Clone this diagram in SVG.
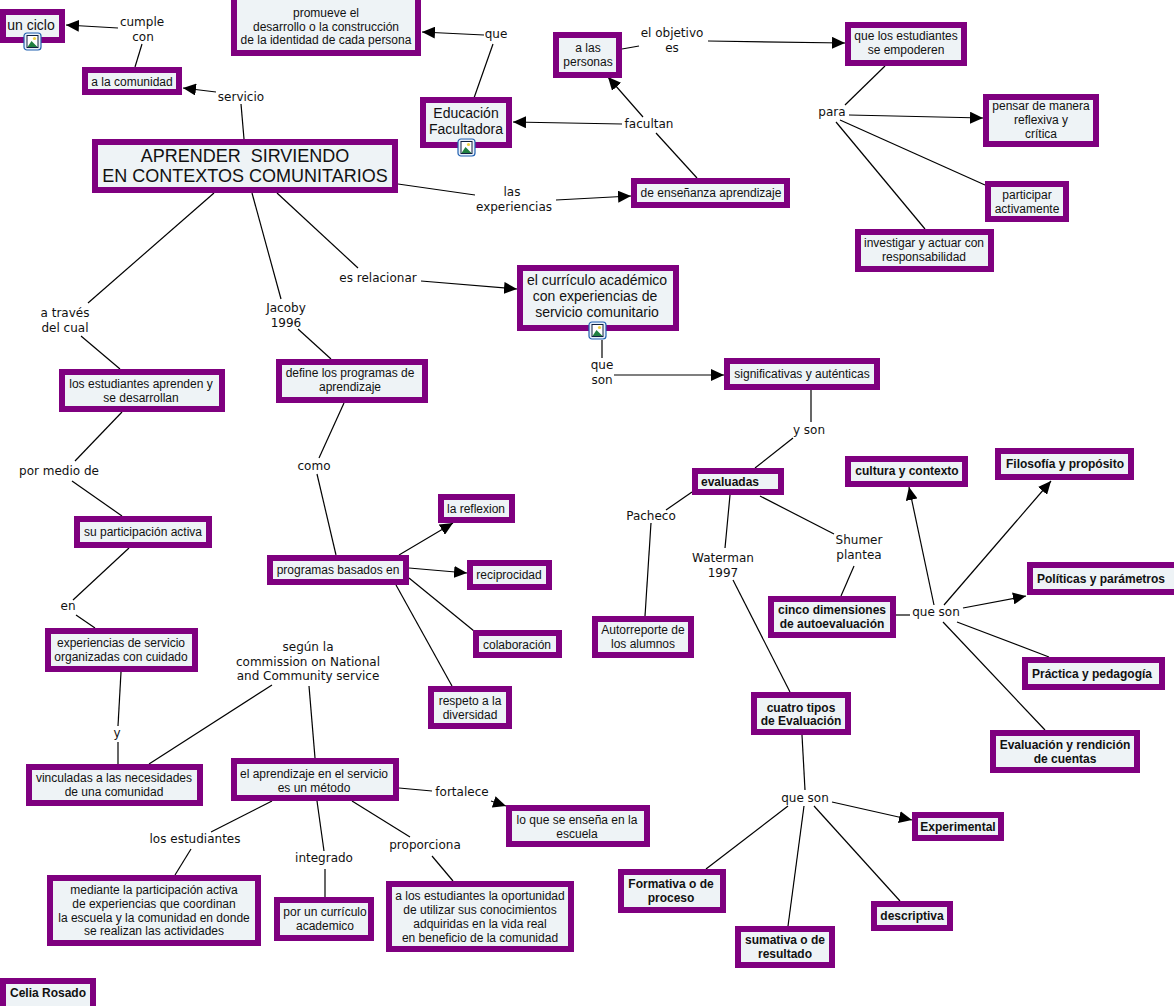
<svg xmlns="http://www.w3.org/2000/svg" width="1174" height="1006" viewBox="0 0 1174 1006">
<style>
.n{fill:#eef3f6;stroke:#7f007f;stroke-width:6}
.t{font:12px "Liberation Sans",Arial,sans-serif;fill:#111;text-anchor:middle}
.b{font-weight:bold}
.l{font:12px "DejaVu Sans",Verdana,sans-serif;fill:#111;text-anchor:middle}
#connectors line{stroke:#000;stroke-width:1.2}
.a{marker-end:url(#arr)}
</style>
<defs>
<marker id="arr" markerUnits="userSpaceOnUse" markerWidth="14" markerHeight="12" refX="13" refY="6" orient="auto"><path d="M0 0L13 6L0 12Z" fill="#000"/></marker>
<g id="ic"><rect x="0" y="0" width="17" height="17" rx="3" fill="#e8f0fa" stroke="#2060b0" stroke-width="1.2"/><rect x="3" y="2.500" width="11" height="12" fill="#fff" stroke="#102040" stroke-width="1"/><circle cx="10.500" cy="5.500" r="1.600" fill="#f0d040"/><path d="M3.500 14L7.500 8L13.500 14Z" fill="#208040"/></g>
</defs>
<rect width="1174" height="1006" fill="#fff"/>
<g id="connectors">
<line class="a" x1="118" y1="28" x2="66" y2="25"/>
<line x1="142" y1="44" x2="135" y2="67"/>
<line class="a" x1="216" y1="92" x2="183" y2="88"/>
<line x1="241" y1="104" x2="244" y2="139"/>
<line class="a" x1="484" y1="35" x2="422" y2="32"/>
<line x1="493" y1="44" x2="474" y2="98"/>
<line class="a" x1="622" y1="124" x2="513" y2="122"/>
<line x1="622" y1="49" x2="639" y2="46"/>
<line class="a" x1="643" y1="117" x2="608" y2="77"/>
<line x1="656" y1="133" x2="697" y2="178"/>
<line class="a" x1="708" y1="41" x2="845" y2="43"/>
<line x1="885" y1="66" x2="845" y2="105"/>
<line class="a" x1="849" y1="115" x2="983" y2="118"/>
<line x1="840" y1="120" x2="985" y2="185"/>
<line x1="836" y1="122" x2="925" y2="229"/>
<line x1="398" y1="184" x2="475" y2="195"/>
<line class="a" x1="556" y1="200" x2="631" y2="196"/>
<line x1="214" y1="193" x2="88" y2="303"/>
<line x1="81" y1="336" x2="120" y2="369"/>
<line x1="122" y1="412" x2="75" y2="461"/>
<line x1="72" y1="481" x2="122" y2="516"/>
<line x1="129" y1="548" x2="73" y2="600"/>
<line x1="76" y1="615" x2="95" y2="628"/>
<line x1="121" y1="672" x2="118" y2="726"/>
<line x1="118" y1="742" x2="118" y2="764"/>
<line x1="272" y1="685" x2="149" y2="764"/>
<line x1="309" y1="686" x2="315" y2="758"/>
<line x1="252" y1="193" x2="281" y2="299"/>
<line x1="298" y1="329" x2="331" y2="359"/>
<line x1="344" y1="403" x2="319" y2="458"/>
<line x1="317" y1="474" x2="336" y2="555"/>
<line x1="277" y1="193" x2="358" y2="268"/>
<line class="a" x1="421" y1="281" x2="517" y2="289"/>
<line class="a" x1="399" y1="555" x2="453" y2="523"/>
<line class="a" x1="409" y1="568" x2="467" y2="573"/>
<line x1="409" y1="578" x2="474" y2="631"/>
<line x1="396" y1="585" x2="452" y2="686"/>
<line x1="602" y1="340" x2="602" y2="358"/>
<line class="a" x1="614" y1="375" x2="724" y2="375"/>
<line x1="811" y1="390" x2="811" y2="422"/>
<line x1="793" y1="438" x2="755" y2="468"/>
<line x1="692" y1="492" x2="666" y2="510"/>
<line x1="651" y1="523" x2="645" y2="616"/>
<line x1="730" y1="495" x2="725" y2="548"/>
<line x1="733" y1="580" x2="790" y2="692"/>
<line x1="760" y1="496" x2="834" y2="534"/>
<line x1="854" y1="566" x2="841" y2="596"/>
<line x1="896" y1="615" x2="910" y2="615"/>
<line class="a" x1="934" y1="605" x2="909" y2="487"/>
<line class="a" x1="944" y1="605" x2="1051" y2="481"/>
<line class="a" x1="963" y1="608" x2="1026" y2="596"/>
<line x1="957" y1="622" x2="1049" y2="657"/>
<line x1="943" y1="622" x2="1045" y2="730"/>
<line x1="802" y1="735" x2="805" y2="790"/>
<line class="a" x1="832" y1="802" x2="912" y2="820"/>
<line x1="788" y1="806" x2="706" y2="869"/>
<line x1="804" y1="806" x2="788" y2="926"/>
<line x1="814" y1="806" x2="900" y2="901"/>
<line x1="399" y1="788" x2="432" y2="791"/>
<line class="a" x1="491" y1="801" x2="506" y2="806"/>
<line x1="272" y1="801" x2="211" y2="832"/>
<line x1="191" y1="849" x2="175" y2="875"/>
<line x1="317" y1="801" x2="324" y2="851"/>
<line x1="325" y1="869" x2="325" y2="897"/>
<line x1="352" y1="801" x2="410" y2="837"/>
<line x1="432" y1="856" x2="453" y2="881"/>
</g>
<g id="labels">
<text class="l" x="142" y="26">cumple</text><text class="l" x="143" y="41">con</text>
<text class="l" x="241" y="101">servicio</text>
<text class="l" x="496" y="38">que</text>
<text class="l" x="649" y="128">facultan</text>
<text class="l" x="672" y="37">el objetivo</text><text class="l" x="672" y="52">es</text>
<text class="l" x="832" y="116">para</text>
<text class="l" x="512" y="196">las</text><text class="l" x="514" y="211">experiencias</text>
<text class="l" x="378" y="282">es relacionar</text>
<text class="l" x="65" y="317">a través</text><text class="l" x="65" y="332">del cual</text>
<text class="l" x="59" y="475">por medio de</text>
<text class="l" x="68" y="610">en</text>
<text class="l" x="117" y="737">y</text>
<text class="l" x="308" y="651">según la</text><text class="l" x="308" y="666">commission on National</text><text class="l" x="308" y="680">and Community service</text>
<text class="l" x="286" y="312">Jacoby</text><text class="l" x="286" y="327">1996</text>
<text class="l" x="314" y="470">como</text>
<text class="l" x="602" y="369">que</text><text class="l" x="602" y="384">son</text>
<text class="l" x="809" y="434">y son</text>
<text class="l" x="651" y="520">Pacheco</text>
<text class="l" x="723" y="562">Waterman</text><text class="l" x="723" y="577">1997</text>
<text class="l" x="859" y="544">Shumer</text><text class="l" x="859" y="559">plantea</text>
<text class="l" x="936" y="616">que son</text>
<text class="l" x="805" y="802">que son</text>
<text class="l" x="462" y="796">fortalece</text>
<text class="l" x="195" y="843">los estudiantes</text>
<text class="l" x="324" y="862">integrado</text>
<text class="l" x="425" y="849">proporciona</text>
</g>
<g id="n1"><rect class="n" x="3" y="12" width="59" height="28"/><text class="t" style="font-size:14px" x="31" y="30">un ciclo</text><use href="#ic" x="24" y="33"/></g>
<g id="n2"><rect class="n" x="85" y="70" width="94" height="22"/><text class="t" x="132" y="86">a la comunidad</text></g>
<g id="n3"><rect class="n" x="95" y="142" width="300" height="48"/><text class="t" style="font-size:18px;white-space:pre" x="245" y="162">APRENDER  SIRVIENDO</text><text class="t" style="font-size:18px" x="245" y="182">EN CONTEXTOS COMUNITARIOS</text></g>
<g id="n4"><rect class="n" x="234" y="-3" width="184" height="56"/><text class="t" x="326" y="17">promueve el</text><text class="t" x="326" y="31">desarrollo o la construcción</text><text class="t" x="326" y="44">de la identidad de cada persona</text></g>
<g id="n5"><rect class="n" x="423" y="100" width="86" height="45"/><text class="t" style="font-size:14px" x="466" y="118">Educación</text><text class="t" style="font-size:14px" x="466" y="134">Facultadora</text><use href="#ic" x="458" y="139"/></g>
<g id="n6"><rect class="n" x="556" y="35" width="63" height="40"/><text class="t" x="588" y="52">a las</text><text class="t" x="588" y="66">personas</text></g>
<g id="n7"><rect class="n" x="848" y="25" width="116" height="38"/><text class="t" x="906" y="40">que los estudiantes</text><text class="t" x="906" y="54">se empoderen</text></g>
<g id="n8"><rect class="n" x="986" y="97" width="110" height="47"/><text class="t" x="1041" y="110">pensar de manera</text><text class="t" x="1041" y="124">reflexiva y</text><text class="t" x="1041" y="138">crítica</text></g>
<g id="n9"><rect class="n" x="988" y="184" width="78" height="35"/><text class="t" x="1027" y="199">participar</text><text class="t" x="1027" y="213">activamente</text></g>
<g id="n10"><rect class="n" x="858" y="232" width="133" height="37"/><text class="t" x="924" y="247">investigar y actuar con</text><text class="t" x="924" y="261">responsabilidad</text></g>
<g id="n11"><rect class="n" x="634" y="181" width="153" height="24"/><text class="t" x="711" y="197">de enseñanza aprendizaje</text></g>
<g id="n12"><rect class="n" x="520" y="268" width="156" height="60"/><text class="t" style="font-size:14px" x="597" y="285">el currículo académico</text><text class="t" style="font-size:14px" x="595" y="301">con experiencias de</text><text class="t" style="font-size:14px" x="597" y="317">servicio comunitario</text><use href="#ic" x="589" y="322"/></g>
<g id="n13"><rect class="n" x="727" y="361" width="150" height="26"/><text class="t" x="802" y="378">significativas y auténticas</text></g>
<g id="n14"><rect class="n" x="695" y="471" width="86" height="21"/><text class="t b" x="730" y="486">evaluadas</text></g>
<g id="n15"><rect class="n" x="848" y="459" width="117" height="25"/><text class="t b" x="907" y="475">cultura y contexto</text></g>
<g id="n16"><rect class="n" x="998" y="451" width="133" height="26"/><text class="t b" x="1065" y="468">Filosofía y propósito</text></g>
<g id="n17"><rect class="n" x="1030" y="565" width="147" height="27"/><text class="t b" x="1101" y="583">Políticas y parámetros</text></g>
<g id="n18"><rect class="n" x="1025" y="660" width="137" height="27"/><text class="t b" x="1092" y="678">Práctica y pedagogía</text></g>
<g id="n19"><rect class="n" x="993" y="733" width="144" height="37"/><text class="t b" x="1065" y="749">Evaluación y rendición</text><text class="t b" x="1065" y="763">de cuentas</text></g>
<g id="n20"><rect class="n" x="771" y="599" width="122" height="36"/><text class="t b" x="832" y="614">cinco dimensiones</text><text class="t b" x="832" y="628">de autoevaluación</text></g>
<g id="n21"><rect class="n" x="754" y="695" width="94" height="37"/><text class="t b" x="801" y="712">cuatro tipos</text><text class="t b" x="801" y="725">de Evaluación</text></g>
<g id="n22"><rect class="n" x="595" y="619" width="96" height="36"/><text class="t" x="643" y="634">Autorreporte de</text><text class="t" x="643" y="648">los alumnos</text></g>
<g id="n23"><rect class="n" x="62" y="372" width="160" height="37"/><text class="t" x="141" y="388">los estudiantes aprenden y</text><text class="t" x="141" y="402">se desarrollan</text></g>
<g id="n24"><rect class="n" x="279" y="362" width="146" height="38"/><text class="t" x="350" y="377">define los programas de</text><text class="t" x="350" y="391">aprendizaje</text></g>
<g id="n25"><rect class="n" x="77" y="519" width="132" height="26"/><text class="t" x="143" y="536">su participación activa</text></g>
<g id="n26"><rect class="n" x="270" y="558" width="136" height="24"/><text class="t" x="338" y="574">programas basados en</text></g>
<g id="n27"><rect class="n" x="441" y="497" width="71" height="23"/><text class="t" x="476" y="513">la reflexion</text></g>
<g id="n28"><rect class="n" x="470" y="563" width="79" height="24"/><text class="t" x="509" y="579">reciprocidad</text></g>
<g id="n29"><rect class="n" x="476" y="633" width="83" height="22"/><text class="t" x="517" y="649">colaboración</text></g>
<g id="n30"><rect class="n" x="431" y="689" width="78" height="37"/><text class="t" x="470" y="705">respeto a la</text><text class="t" x="470" y="719">diversidad</text></g>
<g id="n31"><rect class="n" x="48" y="631" width="147" height="38"/><text class="t" x="121" y="647">experiencias de servicio</text><text class="t" x="121" y="661">organizadas con cuidado</text></g>
<g id="n32"><rect class="n" x="29" y="767" width="171" height="36"/><text class="t" x="114" y="782">vinculadas a las necesidades</text><text class="t" x="114" y="796">de una comunidad</text></g>
<g id="n33"><rect class="n" x="234" y="761" width="162" height="37"/><text class="t" x="314" y="778">el aprendizaje en el servicio</text><text class="t" x="314" y="792">es un método</text></g>
<g id="n34"><rect class="n" x="509" y="808" width="138" height="36"/><text class="t" x="577" y="824">lo que se enseña en la</text><text class="t" x="577" y="838">escuela</text></g>
<g id="n35"><rect class="n" x="50" y="878" width="208" height="65"/><text class="t" x="154" y="894">mediante la participación activa</text><text class="t" x="154" y="908">de experiencias que coordinan</text><text class="t" x="154" y="922">la escuela y la comunidad en donde</text><text class="t" x="154" y="935">se realizan las actividades</text></g>
<g id="n36"><rect class="n" x="277" y="900" width="94" height="38"/><text class="t" x="325" y="916">por un currículo</text><text class="t" x="325" y="930">academico</text></g>
<g id="n37"><rect class="n" x="389" y="884" width="182" height="65"/><text class="t" x="480" y="900">a los estudiantes la oportunidad</text><text class="t" x="480" y="914">de utilizar sus conocimientos</text><text class="t" x="480" y="928">adquiridas en la vida real</text><text class="t" x="480" y="942">en beneficio de la comunidad</text></g>
<g id="n38"><rect class="n" x="915" y="815" width="86" height="23"/><text class="t b" x="958" y="831">Experimental</text></g>
<g id="n39"><rect class="n" x="621" y="872" width="102" height="38"/><text class="t b" x="671" y="888">Formativa o de</text><text class="t b" x="671" y="902">proceso</text></g>
<g id="n40"><rect class="n" x="738" y="929" width="94" height="36"/><text class="t b" x="785" y="944">sumativa o de</text><text class="t b" x="785" y="958">resultado</text></g>
<g id="n41"><rect class="n" x="874" y="904" width="76" height="24"/><text class="t b" x="912" y="920">descriptiva</text></g>
<g id="n42"><rect class="n" x="3" y="981" width="90" height="28"/><text class="t b" x="48" y="997">Celia Rosado</text></g>
</svg>
